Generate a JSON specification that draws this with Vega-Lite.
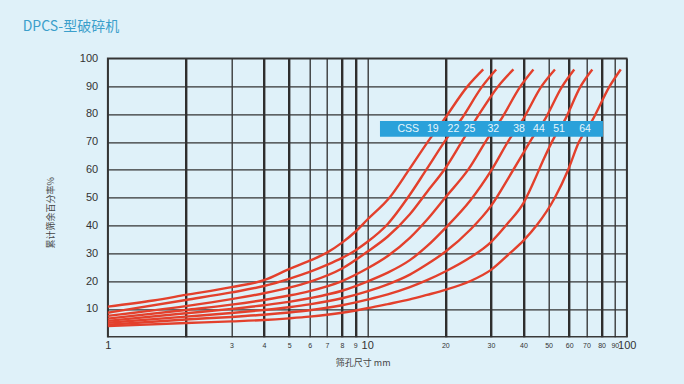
{
  "$schema": "https://vega.github.io/schema/vega-lite/v6.json",
  "autosize": "none",
  "width": 519,
  "height": 278.4,
  "padding": {"left": 107.7, "top": 58.3, "right": 57.3, "bottom": 47.3},
  "background": "#dff1f9",
  "title": {
    "text": "DPCS-型破碎机",
    "anchor": "start",
    "frame": "group",
    "dx": -85,
    "offset": 18,
    "font": "Noto Sans CJK SC",
    "fontSize": 14,
    "fontWeight": "normal",
    "color": "#3b9fcb"
  },
  "config": {
    "view": {"stroke": "#3a3a3a", "strokeWidth": 1.6, "fill": "#dff1f9"},
    "axis": {"labelFont": "Liberation Sans", "titleFont": "Noto Sans CJK SC", "labelOverlap": false}
  },
  "datasets": {
    "curves": [
      {"css": 19, "x": 1, "y": 10.8}, {"css": 19, "x": 1.5, "y": 13}, {"css": 19, "x": 2, "y": 15}, {"css": 19, "x": 3, "y": 17.8}, {"css": 19, "x": 4, "y": 20.3}, {"css": 19, "x": 5, "y": 24.3}, {"css": 19, "x": 6, "y": 27.3}, {"css": 19, "x": 7, "y": 30.2}, {"css": 19, "x": 8, "y": 33.8}, {"css": 19, "x": 9, "y": 37.7}, {"css": 19, "x": 10, "y": 42}, {"css": 19, "x": 12.2, "y": 50}, {"css": 19, "x": 14.5, "y": 60}, {"css": 19, "x": 17.6, "y": 71.6}, {"css": 19, "x": 19.6, "y": 77.5}, {"css": 19, "x": 24.4, "y": 90}, {"css": 19, "x": 28, "y": 96},
      {"css": 22, "x": 1, "y": 8.6}, {"css": 22, "x": 2, "y": 13.2}, {"css": 22, "x": 3, "y": 15.9}, {"css": 22, "x": 4, "y": 18.2}, {"css": 22, "x": 5, "y": 20.8}, {"css": 22, "x": 6, "y": 23.3}, {"css": 22, "x": 7, "y": 25.8}, {"css": 22, "x": 8, "y": 28.3}, {"css": 22, "x": 9, "y": 31}, {"css": 22, "x": 10, "y": 34}, {"css": 22, "x": 12, "y": 40.5}, {"css": 22, "x": 14.6, "y": 51}, {"css": 22, "x": 16.9, "y": 60}, {"css": 22, "x": 20.4, "y": 71.6}, {"css": 22, "x": 22.8, "y": 77.5}, {"css": 22, "x": 27.8, "y": 90}, {"css": 22, "x": 31.4, "y": 96},
      {"css": 25, "x": 1, "y": 7.5}, {"css": 25, "x": 2, "y": 11}, {"css": 25, "x": 3, "y": 13.5}, {"css": 25, "x": 4, "y": 15.6}, {"css": 25, "x": 5, "y": 17.6}, {"css": 25, "x": 6, "y": 19.7}, {"css": 25, "x": 8, "y": 24.5}, {"css": 25, "x": 10, "y": 30.5}, {"css": 25, "x": 12, "y": 36}, {"css": 25, "x": 14.6, "y": 44}, {"css": 25, "x": 17, "y": 52}, {"css": 25, "x": 20, "y": 60.5}, {"css": 25, "x": 23.7, "y": 71.6}, {"css": 25, "x": 26, "y": 77.5}, {"css": 25, "x": 32, "y": 90}, {"css": 25, "x": 36.6, "y": 96},
      {"css": 32, "x": 1, "y": 6.5}, {"css": 32, "x": 2, "y": 9.6}, {"css": 32, "x": 3, "y": 11.5}, {"css": 32, "x": 4, "y": 13.2}, {"css": 32, "x": 5, "y": 14.8}, {"css": 32, "x": 6, "y": 16.4}, {"css": 32, "x": 8, "y": 20}, {"css": 32, "x": 10, "y": 24.5}, {"css": 32, "x": 12, "y": 29}, {"css": 32, "x": 14.6, "y": 35.5}, {"css": 32, "x": 17, "y": 42}, {"css": 32, "x": 20, "y": 50}, {"css": 32, "x": 24.5, "y": 60}, {"css": 32, "x": 29.3, "y": 71.6}, {"css": 32, "x": 32.5, "y": 77.5}, {"css": 32, "x": 39, "y": 90}, {"css": 32, "x": 43.7, "y": 96},
      {"css": 38, "x": 1, "y": 5.7}, {"css": 38, "x": 2, "y": 8.4}, {"css": 38, "x": 3, "y": 10}, {"css": 38, "x": 4, "y": 11.3}, {"css": 38, "x": 5, "y": 12.5}, {"css": 38, "x": 6, "y": 13.8}, {"css": 38, "x": 8, "y": 16.5}, {"css": 38, "x": 10, "y": 19.8}, {"css": 38, "x": 12, "y": 23}, {"css": 38, "x": 14.6, "y": 27.5}, {"css": 38, "x": 17, "y": 32.5}, {"css": 38, "x": 20, "y": 39}, {"css": 38, "x": 25, "y": 49}, {"css": 38, "x": 30.2, "y": 60}, {"css": 38, "x": 35.7, "y": 71.6}, {"css": 38, "x": 39.5, "y": 77.5}, {"css": 38, "x": 47, "y": 90}, {"css": 38, "x": 52.9, "y": 96},
      {"css": 44, "x": 1, "y": 5}, {"css": 44, "x": 2, "y": 7.2}, {"css": 44, "x": 3, "y": 8.5}, {"css": 44, "x": 4, "y": 9.6}, {"css": 44, "x": 5, "y": 10.6}, {"css": 44, "x": 6, "y": 11.6}, {"css": 44, "x": 8, "y": 13.8}, {"css": 44, "x": 10, "y": 16.3}, {"css": 44, "x": 12, "y": 18.8}, {"css": 44, "x": 14.6, "y": 22.3}, {"css": 44, "x": 17, "y": 26}, {"css": 44, "x": 20, "y": 30.5}, {"css": 44, "x": 25, "y": 38.5}, {"css": 44, "x": 30, "y": 47}, {"css": 44, "x": 35, "y": 57}, {"css": 44, "x": 40, "y": 66}, {"css": 44, "x": 43.4, "y": 71.6}, {"css": 44, "x": 48, "y": 77.5}, {"css": 44, "x": 56.5, "y": 90}, {"css": 44, "x": 62.8, "y": 96},
      {"css": 51, "x": 1, "y": 4.3}, {"css": 51, "x": 2, "y": 6.2}, {"css": 51, "x": 3, "y": 7.1}, {"css": 51, "x": 4, "y": 7.9}, {"css": 51, "x": 5, "y": 8.7}, {"css": 51, "x": 6, "y": 9.5}, {"css": 51, "x": 8, "y": 11.3}, {"css": 51, "x": 10, "y": 13.3}, {"css": 51, "x": 12, "y": 15.2}, {"css": 51, "x": 14.6, "y": 17.8}, {"css": 51, "x": 17, "y": 20.3}, {"css": 51, "x": 20, "y": 23.4}, {"css": 51, "x": 25, "y": 28.5}, {"css": 51, "x": 30, "y": 34}, {"css": 51, "x": 35, "y": 41}, {"css": 51, "x": 40, "y": 48}, {"css": 51, "x": 44, "y": 56}, {"css": 51, "x": 48, "y": 64}, {"css": 51, "x": 52.6, "y": 71.6}, {"css": 51, "x": 57.5, "y": 77.5}, {"css": 51, "x": 66.5, "y": 90}, {"css": 51, "x": 73.7, "y": 96},
      {"css": 64, "x": 1, "y": 3.8}, {"css": 64, "x": 2, "y": 4.9}, {"css": 64, "x": 3, "y": 5.5}, {"css": 64, "x": 4, "y": 6}, {"css": 64, "x": 5, "y": 6.6}, {"css": 64, "x": 6, "y": 7.2}, {"css": 64, "x": 8, "y": 8.6}, {"css": 64, "x": 10, "y": 10.2}, {"css": 64, "x": 12, "y": 11.7}, {"css": 64, "x": 14.6, "y": 13.4}, {"css": 64, "x": 17, "y": 15}, {"css": 64, "x": 20, "y": 16.8}, {"css": 64, "x": 25, "y": 20}, {"css": 64, "x": 30, "y": 24}, {"css": 64, "x": 35.5, "y": 30}, {"css": 64, "x": 40, "y": 34.5}, {"css": 64, "x": 45, "y": 40}, {"css": 64, "x": 52.9, "y": 50}, {"css": 64, "x": 59.5, "y": 60}, {"css": 64, "x": 65.5, "y": 70}, {"css": 64, "x": 73.5, "y": 77.5}, {"css": 64, "x": 86, "y": 90}, {"css": 64, "x": 94.8, "y": 96}
    ],
    "box": [{"x1": 11.2, "x2": 81, "y1": 71.8, "y2": 77.5}],
    "labels": [
      {"label": "CSS", "x": 14.4, "y": 74.65},
      {"label": "19", "x": 17.9, "y": 74.65},
      {"label": "22", "x": 21.5, "y": 74.65},
      {"label": "25", "x": 24.8, "y": 74.65},
      {"label": "32", "x": 30.6, "y": 74.65},
      {"label": "38", "x": 38.5, "y": 74.65},
      {"label": "44", "x": 45.9, "y": 74.65},
      {"label": "51", "x": 54.9, "y": 74.65},
      {"label": "64", "x": 69.1, "y": 74.65}
    ]
  },
  "layer": [
    {
      "data": {"name": "curves"},
      "mark": {"type": "line", "color": "#e3402c", "strokeWidth": 2.4, "interpolate": "monotone", "clip": true},
      "encoding": {
        "x": {
          "field": "x", "type": "quantitative",
          "scale": {"type": "log", "domain": [1, 100], "nice": false},
          "axis": {
            "values": [1, 2, 3, 4, 5, 6, 7, 8, 9, 10, 20, 30, 40, 50, 60, 70, 80, 90, 100],
            "tickCount": 40,
            "grid": true,
            "gridColor": "#2e2e2e",
            "gridOpacity": 1,
            "gridWidth": {"condition": {"test": "indexof([2,4,5,8,9,20,30,40,60,80], datum.value) >= 0", "value": 2.4}, "value": 1.3},
            "ticks": false,
            "domain": false,
            "labelExpr": "datum.value == 2 ? '' : format(datum.value, 'd')",
            "labelFontSize": {"condition": {"test": "datum.value == 1 || datum.value == 10 || datum.value == 100", "value": 11}, "value": 7},
            "labelColor": "#333333",
            "labelBaseline": "middle",
            "labelPadding": 9,
            "labelOverlap": false,
            "labelFlush": false,
            "title": "筛孔尺寸 mm",
            "titleFontSize": 9,
            "titleFontWeight": "normal",
            "titleColor": "#444444",
            "titleX": 255,
            "titleY": 22,
            "titleBaseline": "top"
          }
        },
        "y": {
          "field": "y", "type": "quantitative",
          "scale": {"domain": [0, 100], "nice": false},
          "axis": {
            "values": [10, 20, 30, 40, 50, 60, 70, 80, 90, 100],
            "tickCount": 20,
            "grid": true,
            "gridColor": "#333333",
            "gridOpacity": 1,
            "gridWidth": 1.3,
            "ticks": false,
            "domain": false,
            "labelFontSize": 11,
            "labelColor": "#333333",
            "labelPadding": 10,
            "labelOverlap": false,
            "labelFlush": false,
            "title": "累计筛余百分率%",
            "titleFontSize": 9,
            "titleFontWeight": "normal",
            "titleColor": "#444444",
            "titleX": -52,
            "titleY": 154,
            "titleAngle": -90
          }
        },
        "detail": {"field": "css", "type": "nominal"}
      }
    },
    {
      "data": {"name": "box"},
      "mark": {"type": "rect", "color": "#2aa1da", "opacity": 1},
      "encoding": {
        "x": {"field": "x1", "type": "quantitative"},
        "x2": {"field": "x2"},
        "y": {"field": "y1", "type": "quantitative"},
        "y2": {"field": "y2"}
      }
    },
    {
      "data": {"name": "labels"},
      "mark": {"type": "text", "color": "#e6f6fd", "font": "Liberation Sans", "fontSize": 10.5, "align": "center", "baseline": "middle"},
      "encoding": {
        "x": {"field": "x", "type": "quantitative"},
        "y": {"field": "y", "type": "quantitative"},
        "text": {"field": "label"}
      }
    }
  ]
}
